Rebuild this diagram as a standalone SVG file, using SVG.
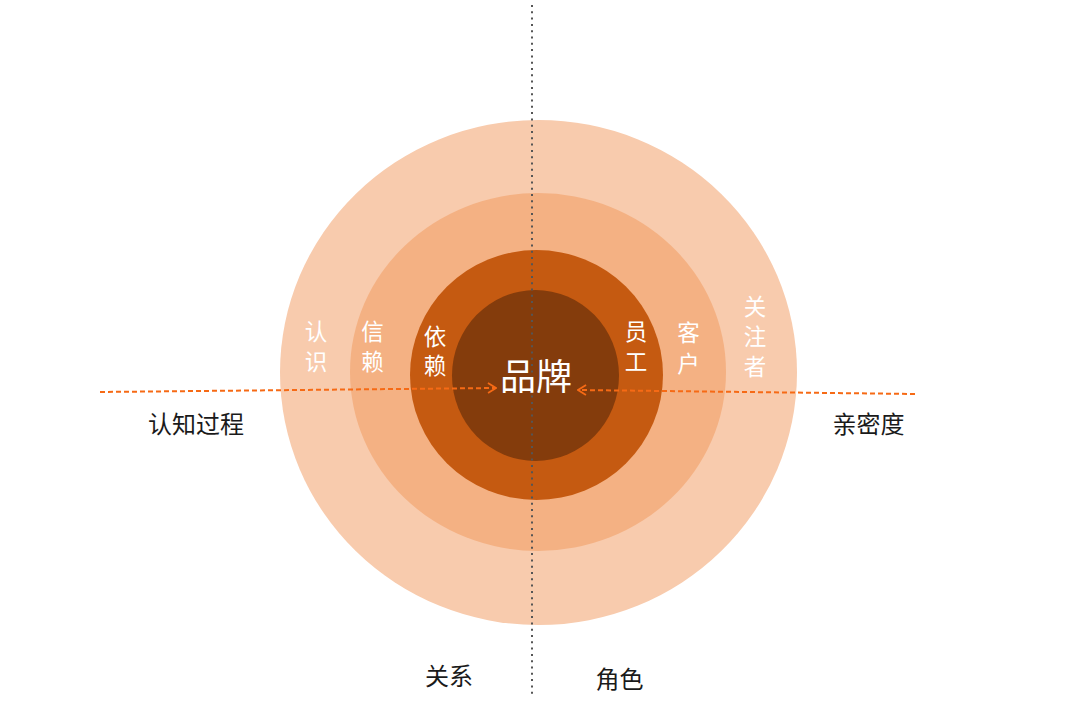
<svg xmlns="http://www.w3.org/2000/svg" width="1080" height="714" viewBox="0 0 1080 714">
<defs>
<style>
.w{fill:#FFFFFF;font-family:"Noto Sans CJK SC","Noto Sans",sans-serif;font-size:22.5px;text-anchor:middle}
.b{fill:#1a1a1a;font-family:"Noto Sans CJK SC","Noto Sans",sans-serif;font-size:24px;text-anchor:middle}
.dash{stroke:#F66A15;stroke-width:2;stroke-dasharray:5 3;fill:none}
</style>
<marker id="arr" viewBox="0 0 10 12" refX="9" refY="6" markerWidth="10" markerHeight="12" markerUnits="userSpaceOnUse" orient="auto">
<path d="M1,1 L9,6 L1,11" fill="none" stroke="#F66A15" stroke-width="1.8"/>
</marker>
</defs>
<rect width="1080" height="714" fill="#FFFFFF"/>
<g id="ring-outer"><ellipse cx="538.5" cy="372.5" rx="258.5" ry="252.5" fill="#F8CBAD"/></g>
<g id="ring-second"><ellipse cx="538" cy="372" rx="188" ry="179" fill="#F4B183"/></g>
<g id="ring-third"><ellipse cx="536.5" cy="375" rx="126.5" ry="125" fill="#C55A11"/></g>
<g id="core"><ellipse cx="535.5" cy="375.5" rx="83.5" ry="85.5" fill="#843C0C"/></g>
<g id="connectors">
<line x1="532" y1="5" x2="532" y2="695" stroke="#555555" stroke-width="2" stroke-dasharray="2 4.3"/>
<line class="dash" x1="100" y1="392" x2="496" y2="388" marker-end="url(#arr)"/>
<line class="dash" x1="915" y1="394" x2="578" y2="390" marker-end="url(#arr)"/>
</g>
<g id="label-brand"><text x="536" y="390" class="w" style="font-size:36px">品牌</text></g>
<g id="label-renshi"><text x="316" y="340" class="w">认</text><text x="316" y="370" class="w">识</text></g>
<g id="label-xinlai"><text x="372.5" y="340" class="w">信</text><text x="372.5" y="370" class="w">赖</text></g>
<g id="label-yilai"><text x="435" y="345" class="w">依</text><text x="435" y="374" class="w">赖</text></g>
<g id="label-yuangong"><text x="636" y="340" class="w">员</text><text x="636" y="370" class="w">工</text></g>
<g id="label-kehu"><text x="688.5" y="341" class="w">客</text><text x="688.5" y="372" class="w">户</text></g>
<g id="label-guanzhuzhe"><text x="755" y="315" class="w">关</text><text x="755" y="345" class="w">注</text><text x="755" y="375" class="w">者</text></g>
<g id="label-cognition"><text x="196" y="433" class="b">认知过程</text></g>
<g id="label-intimacy"><text x="868.5" y="433" class="b">亲密度</text></g>
<g id="label-relation"><text x="449" y="685" class="b">关系</text></g>
<g id="label-role"><text x="619.5" y="688" class="b">角色</text></g>
</svg>
